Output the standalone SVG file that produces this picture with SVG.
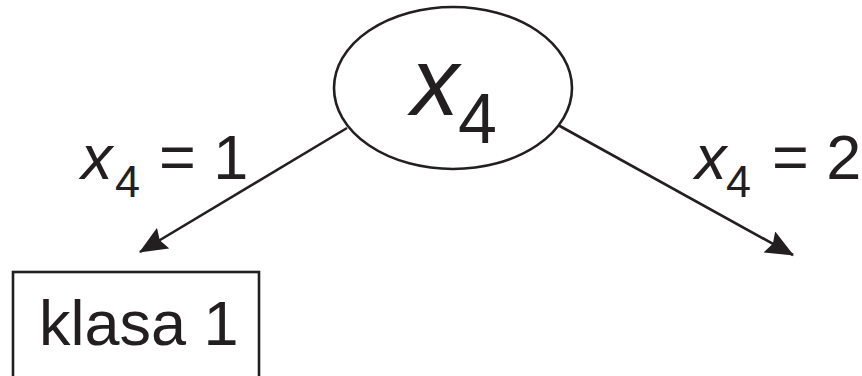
<svg xmlns="http://www.w3.org/2000/svg" width="862" height="376" viewBox="0 0 862 376">
<style>
.s{fill:none;stroke:#231f20;stroke-width:2.6}
.t{font-family:"Liberation Sans",Arial,sans-serif;fill:#231f20}
.i{font-style:italic}
</style>
<defs>
<marker id="ah" markerUnits="userSpaceOnUse" viewBox="0 0 28 24" refX="27" refY="12" markerWidth="28" markerHeight="24" orient="auto">
<path d="M0,0 L28,12 L0,24 L4,12 Z" fill="#231f20"/>
</marker>
</defs>
<rect width="862" height="376" fill="#fff"/>
<g id="connectors">
<line class="s" x1="347" y1="128" x2="140" y2="252" marker-end="url(#ah)"/>
<line class="s" x1="558" y1="125" x2="793" y2="255" marker-end="url(#ah)"/>
<text class="t" font-size="63"><tspan class="i" x="81" y="179">x</tspan><tspan x="115" y="197" font-size="45">4</tspan><tspan x="159" y="179">= 1</tspan></text>
<text class="t" font-size="63"><tspan class="i" x="695" y="179">x</tspan><tspan x="726" y="197" font-size="45">4</tspan><tspan x="772" y="179">= 2</tspan></text>
</g>
<g id="root">
<ellipse class="s" cx="453" cy="88" rx="119" ry="81"/>
<text class="t" font-size="96"><tspan class="i" x="411" y="115">x</tspan><tspan x="458" y="143" font-size="70">4</tspan></text>
</g>
<g id="leaf1">
<rect class="s" x="13" y="272" width="246" height="120"/>
<text class="t" x="39" y="345" font-size="63">klasa 1</text>
</g>
</svg>
